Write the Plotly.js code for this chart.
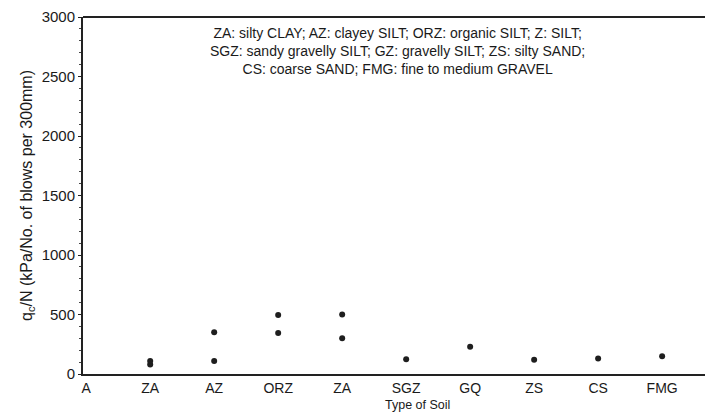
<!DOCTYPE html>
<html>
<head>
<meta charset="utf-8">
<script src="https://cdn.plot.ly/plotly-3.0.1.min.js"></script>
<style>html,body{margin:0;padding:0;background:#fff;}#chart{width:709px;height:412px;}</style>
</head>
<body>
<div id="chart"></div>
<script>
const categories = ['A', 'ZA', 'AZ', 'ORZ', 'ZA', 'SGZ', 'GQ', 'ZS', 'CS', 'FMG'];
const pointCategoryIndex = [1, 1, 2, 2, 3, 3, 4, 4, 5, 6, 7, 8, 9];
const qcOverN = [80, 110, 110, 350, 345, 495, 300, 500, 125, 230, 120, 130, 150];
const yTickVals = [0, 500, 1000, 1500, 2000, 2500, 3000];
const noteLines = [
  'ZA: silty CLAY; AZ: clayey SILT; ORZ: organic SILT; Z: SILT;',
  'SGZ: sandy gravelly SILT; GZ: gravelly SILT; ZS: silty SAND;',
  'CS: coarse SAND; FMG: fine to medium GRAVEL'
];
const xTitle = 'Type of Soil';
const yTitle = 'q<sub>c</sub>/N (kPa/No. of blows per 300mm)';

const trace = {
  x: pointCategoryIndex,
  y: qcOverN,
  mode: 'markers',
  type: 'scatter',
  marker: {color: '#1e1e1e', size: 6, symbol: 'circle'},
  hoverinfo: 'x+y',
  showlegend: false
};

const annotations = [{
  xref: 'paper', yref: 'paper', x: 0.505, y: 0.906, xanchor: 'center', yanchor: 'middle',
  text: noteLines.join('<br>'), showarrow: false, align: 'center',
  font: {size: 14, color: '#1a1a1a'}
}, {
  xref: 'paper', yref: 'paper', x: (418 - 83) / 622, y: -0.086, xanchor: 'center', yanchor: 'middle',
  text: xTitle, showarrow: false, font: {size: 12.5, color: '#1a1a1a'}
}];

const layout = {
  width: 709, height: 412,
  margin: {l: 83, r: 4, t: 17, b: 38},
  paper_bgcolor: '#fff', plot_bgcolor: '#fff',
  font: {family: 'Liberation Sans, Arial, sans-serif', color: '#1a1a1a', size: 12},
  xaxis: {
    range: [-0.05, 9.67],
    tickvals: categories.map((c, i) => i),
    ticktext: categories,
    showgrid: false, zeroline: false,
    showline: true, linecolor: '#222', linewidth: 2,
    ticks: '', tickfont: {size: 14}
  },
  yaxis: {
    range: [0, 3000],
    tickvals: yTickVals,
    showgrid: false, zeroline: false,
    showline: true, linecolor: '#222', linewidth: 2,
    ticks: 'outside', ticklen: 3, tickwidth: 1, tickcolor: '#222',
    minor: {dtick: 100, ticks: 'outside', ticklen: 2, tickcolor: '#444', tickwidth: 1},
    tickfont: {size: 15},
    title: {text: yTitle, font: {size: 16}, standoff: 5}
  },
  shapes: [{type: 'line', xref: 'paper', yref: 'paper', x0: 0, x1: 1, y0: 1, y1: 1, line: {color: '#222', width: 2}}],
  annotations: annotations
};

Plotly.newPlot('chart', [trace], layout, {displayModeBar: false, staticPlot: true});
</script>
</body>
</html>
